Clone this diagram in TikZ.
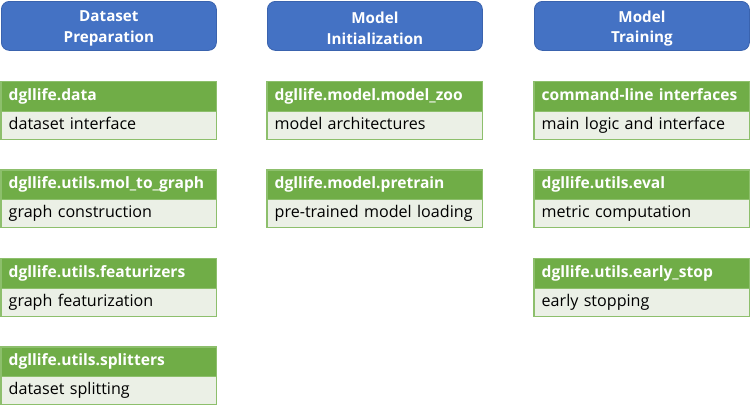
\documentclass[tikz,border=0pt]{standalone}
\usepackage{fontspec}
\setmainfont{Open Sans}
\definecolor{hdrblue}{HTML}{4472C4}
\definecolor{hdrblueline}{HTML}{3A63AE}
\definecolor{modgreen}{HTML}{70AD47}
\definecolor{modline}{HTML}{8DBF6C}
\definecolor{modbody}{HTML}{EBF0E6}
\begin{document}
\begin{tikzpicture}[x=1bp,y=-1bp,
  phase/.style={draw=hdrblueline, line width=0.8bp, fill=hdrblue, rounded corners=8bp,
    minimum width=215bp, minimum height=49bp, inner sep=0pt, anchor=north west},
  phasetext/.style={inner sep=0pt, text=white,
    font=\fontsize{15.2bp}{20.5bp}\selectfont\bfseries, align=center},
  modhead/.style={fill=modgreen, minimum width=215bp, minimum height=29bp, inner sep=0pt,
    text=white, font=\fontsize{15.6bp}{18bp}\selectfont\bfseries, anchor=north west,
    text width=200bp, align=left, text height=11.5bp, text depth=3.5bp},
  modbodystyle/.style={fill=modbody, minimum width=215bp, minimum height=28bp, inner sep=0pt,
    text=black, font=\fontsize{16.1bp}{18bp}\selectfont, anchor=north west,
    text width=200bp, align=left, text height=11.5bp, text depth=3.5bp},
  frame/.style={draw=modline, line width=1.2bp}
]
\useasboundingbox (0,0) rectangle (750,404);
% headers
\node[phase] (p1) at (1,1) {};
\node[phase] (p2) at (267,1) {};
\node[phase] (p3) at (534,1) {};
\node[phasetext] (p1t) at ([yshift=-2.5bp]p1.center) {Dataset\\Preparation};
\node[phasetext] (p2t) at ([yshift=-2.5bp]p2.center) {Model\\Initialization};
\node[phasetext] (p3t) at ([yshift=-2.5bp]p3.center) {Model\\Training};

\newcommand{\modblock}[5]{%
  \node[modhead] (#1h) at (#2,#3) {\mbox{#4}};
  \node[modbodystyle] (#1b) at (#1h.south west) {\mbox{#5}};
  \draw[frame] (#1h.north west) rectangle (#1b.south east);
  \draw[draw=modline, line width=0.8bp] (#1h.south west) -- (#1h.south east);
}
\modblock{a1}{1}{81.5}{dgllife.data}{dataset interface}
\modblock{a2}{1}{170}{dgllife.utils.mol\_to\_graph}{graph construction}
\modblock{a3}{1}{258.5}{dgllife.utils.featurizers}{graph featurization}
\modblock{a4}{1}{347}{dgllife.utils.splitters}{dataset splitting}

\modblock{b1}{267}{81.5}{dgllife.model.model\_zoo}{model architectures}
\modblock{b2}{267}{170}{dgllife.model.pretrain}{pre-trained model loading}

\modblock{c1}{534}{81.5}{command-line interfaces}{main logic and interface}
\modblock{c2}{534}{170}{dgllife.utils.eval}{metric computation}
\modblock{c3}{534}{258.5}{dgllife.utils.early\_stop}{early stopping}
\end{tikzpicture}
\end{document}
